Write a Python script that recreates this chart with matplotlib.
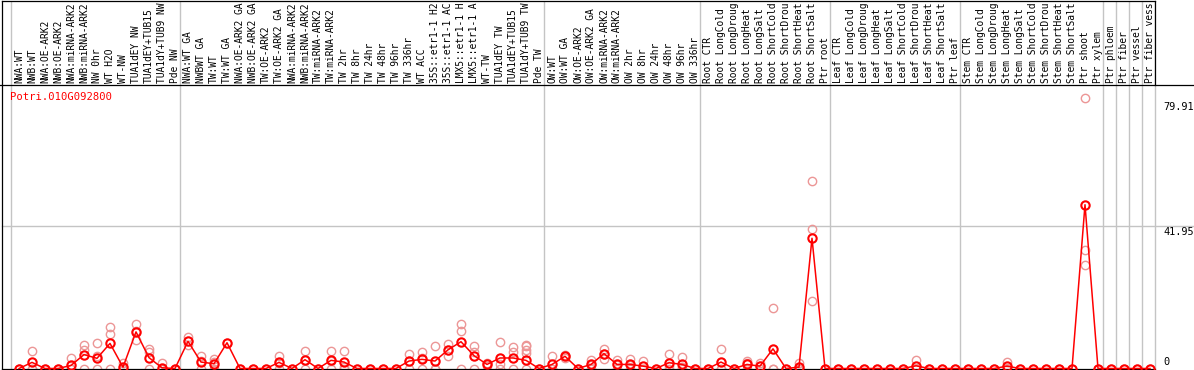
import numpy as np
import matplotlib
matplotlib.use('Agg')
import matplotlib.pyplot as plt
import matplotlib.transforms as mtransforms
from matplotlib.lines import Line2D

gene = 'Potri.010G092800'

labels = [
    'NWA:WT', 'NWB:WT', 'NWA:OE-ARK2', 'NWB:OE-ARK2', 'NWA:miRNA-ARK2', 'NWB:miRNA-ARK2',
    'NW 0hr', 'WT H2O', 'WT-NW', 'TUA1dEY NW', 'TUA1dEY+TUB15', 'TUA1dY+TUB9 NW', 'Pde NW',
    'NWA:WT GA', 'NWBWT GA', 'TW:WT', 'TW:WT GA', 'NWA:OE-ARK2 GA', 'NWB:OE-ARK2 GA',
    'TW:OE-ARK2', 'TW:OE-ARK2 GA', 'NWA:miRNA-ARK2', 'NWB:miRNA-ARK2', 'TW:miRNA-ARK2',
    'TW:miRNA-ARK2', 'TW 2hr', 'TW 8hr', 'TW 24hr', 'TW 48hr', 'TW 96hr', 'TW 336hr',
    'WT ACC', '35S::etr1-1 H2', '35S::etr1-1 AC', 'LMX5::etr1-1 H', 'LMX5::etr1-1 A',
    'WT-TW', 'TUA1dEY TW', 'TUA1dEY+TUB15', 'TUA1dY+TUB9 TW', 'Pde TW',
    'OW:WT', 'OW:WT GA', 'OW:OE-ARK2', 'OW:OE-ARK2 GA', 'OW:miRNA-ARK2', 'OW:miRNA-ARK2',
    'OW 2hr', 'OW 8hr', 'OW 24hr', 'OW 48hr', 'OW 96hr', 'OW 336hr',
    'Root CTR', 'Root LongCold', 'Root LongDroug', 'Root LongHeat', 'Root LongSalt',
    'Root ShortCold', 'Root ShortDrou', 'Root ShortHeat', 'Root ShortSalt', 'Ptr root',
    'Leaf CTR', 'Leaf LongCold', 'Leaf LongDroug', 'Leaf LongHeat', 'Leaf LongSalt',
    'Leaf ShortCold', 'Leaf ShortDrou', 'Leaf ShortHeat', 'Leaf ShortSalt', 'Ptr leaf',
    'Stem CTR', 'Stem LongCold', 'Stem LongDroug', 'Stem LongHeat', 'Stem LongSalt',
    'Stem ShortCold', 'Stem ShortDrou', 'Stem ShortHeat', 'Stem ShortSalt', 'Ptr shoot',
    'Ptr xylem', 'Ptr phloem', 'Ptr fiber', 'Ptr vessel', 'Ptr fiber vess',
]

means = [
    0, 1.8, 0, 0, 0.9, 4.1, 3.0, 7.4, 0.4, 10.8, 3.2, 0.2, 0,
    8.0, 1.9, 1.4, 7.6, 0, 0, 0, 1.8, 0, 2.6, 0, 2.4, 1.9, 0, 0, 0, 0, 2.2,
    2.7, 2.2, 5.5, 7.9, 3.8, 1.2, 3.1, 3.1, 2.4, 0,
    1.2, 3.6, 0, 1.2, 4.4, 1.2, 1.2, 0.7, 0, 1.7, 1.2, 0,
    0, 1.9, 0, 1.2, 0.7, 5.8, 0, 0.4, 38.4, 0,
    0, 0, 0, 0, 0, 0, 0.8, 0, 0, 0,
    0, 0, 0, 0.7, 0, 0, 0, 0, 0, 48.3,
    0, 0, 0, 0, 0,
]

# replicate values (light circles)
reps = [
    [0, 0], [5.3, 0, 0], [0], [0], [3.1, 0, 0], [6.8, 5.6, 0], [7.4, 3.8, 0], [12.1, 10.2, 0],
    [1.7, 0, 0], [13.0, 11.1, 8.3], [5.7, 4.8, 0], [1.7, 0, 0], [0],
    [9.3, 8.0, 6.8], [3.6, 2.1, 0], [2.7, 1.9, 0], [7.6], [0], [0], [0], [3.8, 1.6, 0], [0],
    [5.3, 2.5, 0], [0], [5.1, 2.1, 0], [5.3, 0.4, 0], [0], [0], [0], [0], [4.3, 2.3, 0],
    [4.9, 3.2, 0], [6.5, 0, 0], [7.1, 5.6, 3.8], [13.0, 11.2, 0], [6.6, 4.8, 0], [1.7, 1.2, 0.7],
    [7.9, 1.4, 0], [6.3, 5.0, 0], [7.0, 6.5, 5.6, 4.6, 0], [0],
    [3.6, 0, 0], [4.1, 3.6, 3.1], [0], [2.6, 1.0, 0], [5.8, 4.4, 2.7], [2.6, 1.0, 0],
    [2.7, 0.9, 0], [2.1, 0, 0], [0], [4.4, 0.7, 0], [3.3, 0.3, 0], [0],
    [0], [5.8, 0, 0], [0], [2.1, 1.5, 0], [1.5, 0.6, 0], [17.7, 0, 0], [0], [1.5, 0, 0],
    [55.4, 41.0, 20.0], [0],
    [0], [0], [0], [0], [0], [0], [2.4, 0, 0], [0], [0], [0],
    [0], [0], [0], [1.9, 0.2, 0], [0], [0], [0], [0], [0], [79.91, 34.8, 30.4],
    [0], [0], [0], [0], [0],
]

# last index of each sample group
group_ends = [12, 40, 52, 62, 72, 83, 84, 85, 86]
ytick_vals = [0, 41.95, 79.91]

W, H = 1194, 370
GRID = '#c4c4c4'
PINK = '#ec9696'
mono = 'DejaVu Sans Mono'


def px_rect(x0, y0, x1, y1):
    return [x0 / W, 1 - y1 / H, (x1 - x0) / W, (y1 - y0) / H]


fig = plt.figure(figsize=(W / 100, H / 100), dpi=100)
ax = fig.add_axes(px_rect(2, 85, 1155, 368.5))
hx = fig.add_axes(px_rect(2, 0.5, 1155, 85))

xs = np.arange(len(labels))
xlim = ((2 - 19) / 13, (1155 - 19) / 13)
ax.set_xlim(xlim)
hx.set_xlim(xlim)
hx.set_ylim(0, 1)
ymax = 283.5 / 3.391
ax.set_ylim(0, ymax)

for a in (ax, hx):
    a.set_xticks([])
    a.set_yticks([])
    for s in a.spines.values():
        s.set_color('black')
        s.set_linewidth(0.9)
ax.spines['right'].set_visible(False)
ax.spines['top'].set_visible(False)
hx.spines['bottom'].set_visible(False)

# full-width separator between header and plot
fig.add_artist(Line2D([0, 1], [1 - 85 / H, 1 - 85 / H], color='black', lw=0.9))

# group separators
bounds = [-0.62] + [g + 0.42 for g in group_ends] + [xlim[1] - 0.01]
for b in bounds:
    ax.axvline(b, color=GRID, lw=1, zorder=0, clip_on=False)
    hx.axvline(b, color=GRID, lw=1, zorder=0)

ax.axhline(ytick_vals[1], xmin=0, xmax=(W - 2) / 1153, color=GRID, lw=1, zorder=0, clip_on=False)

# sample names in header
trans = mtransforms.blended_transform_factory(hx.transData, hx.transAxes)
for i, name in enumerate(labels):
    hx.text(i, 0.02, name, rotation=90, ha='center', va='bottom', fontsize=6.9,
            family=mono, transform=trans, clip_on=True)

# replicates
for i, vals in enumerate(reps):
    ax.plot([i] * len(vals), vals, 'o', mfc='none', mec=PINK, ms=6, mew=1.0,
            clip_on=False, zorder=2)

ax.plot(xs, means, '-', color='red', lw=1.1, clip_on=False, zorder=3)
ax.plot(xs, means, 'o', mfc='none', mec='red', ms=6, mew=1.5, clip_on=False, zorder=4)

fig.text(10 / W, 1 - 97 / H, gene, color='red', fontsize=7.6, family=mono,
         ha='left', va='center')

label_y = {0: 362, 41.95: 232, 79.91: 107}
for v in ytick_vals:
    txt = '0' if v == 0 else f'{v:.2f}'
    fig.text(1163 / W, 1 - label_y[v] / H, txt, fontsize=7.4, family=mono,
             ha='left', va='center')

plt.savefig('out.png', dpi=100)
